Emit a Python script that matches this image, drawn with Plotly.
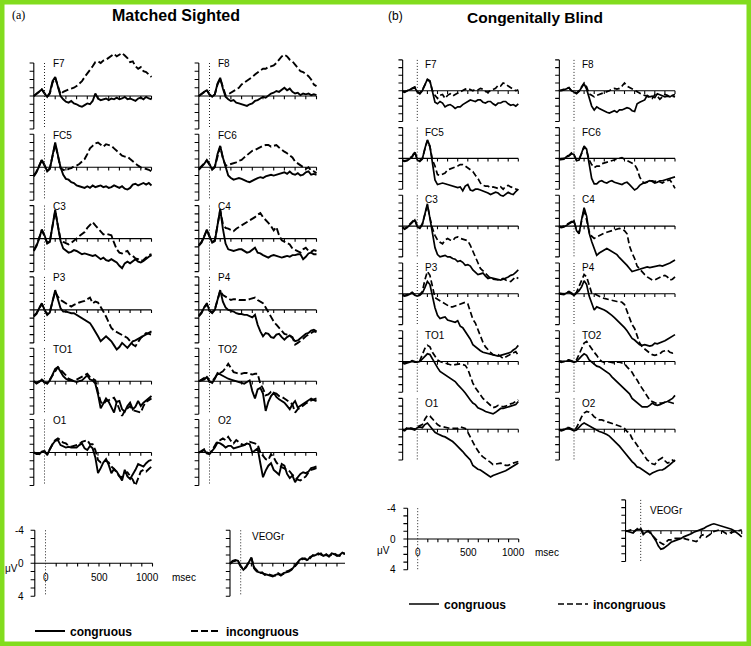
import plotly.graph_objects as go

W, H = 751, 646
FONT = "Liberation Sans, Arial, Helvetica, sans-serif"
SERIF = "Liberation Serif, Times New Roman, serif"
GREEN = "#82dc1e"

# ---------------- data (microvolts, negative plotted up) ----------------
T_A = list(range(-100, 1001, 25))
T_B = list(range(-150, 1001, 25))
Y_TICKS = [-4, -3, -2, -1, 0, 1, 2, 3, 4]
X_TICKS = [0, 100, 200, 300, 400, 500, 600, 700, 800, 900, 1000]
SCALE_Y_LABELS = [-4, 0, 4]
SCALE_X_LABELS = [0, 500, 1000]
LEFT_CHANNELS = ["F7", "FC5", "C3", "P3", "TO1", "O1"]
RIGHT_CHANNELS = ["F8", "FC6", "C4", "P4", "TO2", "O2"]

# ---- (a) Matched Sighted ----
A_F7_CON = [0.0,-0.3,-0.5,-0.8,-0.3, 0.1,-0.4,-1.8,-2.3,-1.0, 0.0,0.4,0.7,0.8,0.6, 0.9,1.0,1.2,1.3,1.1, 0.9,1.0,0.6,-0.3,0.3, 0.5,0.4,0.3,0.5,0.3, 0.4,0.2,0.4,0.3,0.1, 0.4,0.3,0.5,0.6,0.3, 0.2,0.4,0.1,0.3,0.4]
A_F7_INC = [0.0,-0.2,-0.5,-0.8,-0.3, 0.1,-0.3,-1.6,-2.2,-1.1, -0.2,-0.5,-0.7,-0.8,-0.9, -1.0,-1.2,-1.5,-1.8,-2.3, -2.7,-3.1,-3.6,-4.1,-4.2, -4.0,-4.3,-4.4,-4.6,-4.8, -5.1,-4.8,-5.0,-5.2,-4.9, -4.6,-4.1,-4.2,-3.6,-3.3, -3.5,-3.0,-2.9,-2.6,-2.3]
A_F8_CON = [0.0,-0.3,-0.5,-0.7,-0.2, 0.1,-0.2,-1.5,-2.2,-0.9, 0.1,0.4,0.6,0.5,0.8, 0.9,1.0,1.1,1.2,1.0, 0.9,0.6,0.5,0.3,0.1, 0.2,-0.1,-0.3,-0.4,-0.6, -0.5,-0.8,-1.0,-0.7,-0.9, -0.5,-0.3,-0.4,-0.1,-0.3, -0.2,-0.3,-0.1,-0.2,-0.1]
A_F8_INC = [0.0,-0.2,-0.5,-0.7,-0.2, 0.1,-0.2,-1.4,-2.1,-1.0, -0.1,-0.2,-0.4,-0.6,-0.8, -1.0,-1.4,-1.6,-1.8,-2.0, -2.3,-2.6,-2.9,-3.1,-3.3, -3.3,-3.5,-3.6,-3.7,-4.0, -4.4,-4.8,-5.0,-4.8,-4.4, -4.2,-3.8,-3.4,-3.0,-2.9, -2.7,-2.4,-2.0,-1.4,-1.2]
A_FC5_CON = [1.1,0.6,-0.1,-0.9,-0.3, 0.5,0.2,-1.5,-3.0,-1.5, 0.0,0.9,1.4,1.5,1.8, 1.9,2.2,2.3,2.4,2.5, 2.3,2.5,2.2,2.4,2.3, 2.2,2.4,2.3,2.5,2.4, 2.2,2.4,2.5,2.3,2.6, 2.7,2.5,2.1,2.0,2.2, 2.0,1.9,2.1,1.9,2.2]
A_FC5_INC = [1.0,0.5,-0.2,-0.9,-0.2, 0.4,0.1,-1.4,-2.8,-1.4, 0.1,0.3,0.4,0.2,0.1, -0.1,-0.2,-0.4,-0.7,-1.0, -1.6,-2.3,-2.6,-2.9,-3.0, -2.7,-2.5,-2.8,-2.7,-2.6, -2.3,-2.0,-1.6,-1.4,-1.3, -1.3,-1.0,-0.7,-0.4,-0.2, 0.0,0.1,0.2,0.3,0.5]
A_FC6_CON = [0.3,0.0,-0.4,-0.9,-0.4, 0.3,0.0,-1.6,-2.6,-1.2, 0.0,1.0,1.3,1.5,1.4, 1.3,1.4,1.6,1.7,1.8, 1.6,1.4,1.3,1.2,1.3, 1.1,1.0,0.9,1.0,0.9, 0.8,0.7,0.6,0.8,0.5, 0.8,0.9,0.7,1.0,0.9, 0.6,0.5,0.9,0.8,0.9]
A_FC6_INC = [0.2,-0.1,-0.4,-0.8,-0.3, 0.2,-0.1,-1.5,-2.5,-1.1, -0.2,-0.3,-0.4,-0.5,-0.6, -0.8,-0.9,-1.2,-1.5,-1.7, -2.0,-2.1,-2.3,-2.4,-2.6, -2.7,-2.7,-2.5,-2.6,-2.7, -2.4,-2.1,-1.9,-1.7,-1.5, -1.2,-0.7,-0.5,-0.3,0.0, 0.2,0.0,0.4,0.5,0.7]
A_C3_CON = [1.5,0.9,0.0,-1.1,-0.4, 0.6,0.4,-1.8,-3.5,-1.5, 0.3,1.2,1.5,1.7,1.6, 1.4,1.5,1.7,1.9,1.8, 1.9,2.0,2.1,2.0,2.3, 2.5,2.3,2.6,2.7,2.5, 2.7,2.9,3.3,3.6,3.0, 2.8,3.0,2.7,2.5,2.8, 2.9,2.7,2.4,2.2,2.0]
A_C3_INC = [1.4,0.8,-0.1,-1.0,-0.3, 0.5,0.3,-1.6,-3.3,-1.6, 0.1,0.4,0.6,0.7,0.5, 0.3,0.0,-0.3,-0.6,-0.8, -1.3,-1.7,-2.0,-1.6,-1.2, -0.8,-0.5,-0.6,-0.5,-0.4, 0.5,1.3,1.7,1.8,1.6, 1.5,2.0,2.1,2.4,2.5, 2.7,2.6,2.3,2.0,1.9]
A_C4_CON = [0.9,0.5,-0.2,-1.1,-0.3, 0.5,0.3,-1.9,-3.6,-1.2, 0.6,1.3,1.4,1.5,1.4, 1.3,1.3,1.5,1.7,1.6, 1.4,1.1,1.7,1.8,2.0, 2.2,2.3,2.1,2.0,2.1, 2.2,2.3,2.2,2.1,2.2, 2.0,2.0,1.9,1.9,2.5, 2.2,1.8,1.7,1.9,1.9]
A_C4_INC = [0.8,0.4,-0.3,-1.0,-0.2, 0.4,0.2,-1.7,-3.4,-1.8, -1.3,-1.2,-1.0,-0.9,-1.2, -1.4,-1.5,-1.7,-1.9,-2.1, -2.3,-2.6,-2.9,-3.1,-2.6, -2.3,-1.9,-1.5,-1.0,-1.4, -0.4,0.2,0.4,0.6,0.7, 1.2,1.4,1.5,1.7,1.3, 1.1,1.5,1.6,1.4,1.5]
A_P3_CON = [0.8,0.5,-0.2,-0.8,0.0, 0.6,0.3,-1.2,-2.4,-1.3, -0.2,0.2,0.2,0.3,0.4, 0.4,0.6,0.8,1.0,1.1, 1.3,1.6,2.1,2.6,3.2, 3.8,3.5,3.2,3.5,3.8, 4.3,4.8,4.5,4.0,4.3, 4.6,4.2,3.8,3.7,3.5, 3.3,3.2,2.9,2.7,2.6]
A_P3_INC = [0.7,0.4,-0.2,-0.7,0.0, 0.5,0.2,-1.1,-2.2,-1.6, -1.2,-1.0,-0.8,-0.6,-0.4, -0.6,-0.8,-0.9,-1.0,-1.1, -1.3,-1.5,-0.8,-1.0,-0.9, -0.4,0.2,0.8,1.5,2.2, 2.5,2.7,2.9,3.1,3.2, 3.4,3.8,4.2,4.4,3.9, 3.4,3.1,2.8,2.9,3.0]
A_P4_CON = [0.8,0.4,-0.3,-0.8,0.1, 0.4,0.0,-1.3,-2.4,-1.0, -0.3,0.0,0.1,0.2,0.4, 0.5,0.5,0.6,0.6,0.8, 0.9,0.6,1.8,2.6,3.2, 2.8,2.9,3.3,3.4,3.0, 2.9,3.3,3.6,3.3,3.1, 3.4,3.8,3.7,3.4,3.1, 2.9,2.8,2.5,2.4,2.6]
A_P4_INC = [0.7,0.3,-0.3,-0.7,0.1, 0.3,-0.1,-1.2,-2.3,-1.8, -1.6,-1.3,-1.2,-1.3,-1.3, -1.2,-1.2,-1.2,-1.2,-1.3, -1.4,-1.5,-1.2,-1.0,-0.8, -0.3,0.3,0.8,1.4,1.8, 2.2,2.6,2.9,3.0,3.1, 3.3,4.2,4.0,3.8,3.5, 3.2,3.0,2.8,2.6,2.7]
A_TO1_CON = [0.0,0.3,0.1,-0.2,0.1, 0.3,-0.1,-0.8,-1.5,-1.7, -1.1,-0.6,-0.3,-0.1,-0.1, 0.0,0.1,0.0,-0.1,-0.4, -0.7,-0.2,-0.1,0.3,1.6, 3.3,2.6,2.1,2.5,3.2, 3.8,2.5,2.4,3.4,3.7, 3.0,2.6,3.4,3.1,2.4, 3.0,2.6,2.3,2.1,1.8]
A_TO1_INC = [0.0,0.2,0.0,-0.2,0.2, 0.2,-0.2,-0.7,-1.3,-1.7, -1.4,-1.1,-0.7,-0.3,-0.1, 0.0,-0.2,-0.4,-0.5,-0.7, -0.9,-0.5,-0.3,-0.1,1.3, 2.5,2.8,2.4,2.3,2.1, 2.0,2.6,3.4,4.2,3.6, 3.3,3.0,3.5,3.6,3.7, 3.8,3.0,2.5,2.3,2.1]
A_TO2_CON = [0.0,-0.1,-0.2,-0.5,0.0, 0.2,-0.3,-1.0,-0.8,-0.6, -0.4,-0.3,-0.2,-0.1,0.0, 0.1,0.2,0.3,0.1,-0.1, 1.2,2.1,1.0,0.8,1.5, 3.6,2.5,1.8,1.4,1.9, 2.2,2.4,2.6,3.0,3.4, 2.8,2.4,3.2,3.0,2.7, 2.5,2.4,2.1,2.3,2.4]
A_TO2_INC = [0.0,-0.2,-0.3,-0.6,0.1, 0.0,-0.4,-0.9,-1.0,-1.2, -1.6,-2.1,-1.6,-1.1,-1.0, -0.9,-0.9,-1.0,-1.0,-0.9, -0.8,-0.9,-0.9,0.3,0.9, 1.7,1.6,1.3,1.4,1.5, 1.8,1.9,2.1,2.3,2.6, 2.8,3.8,3.4,3.2,2.9, 2.7,2.5,2.3,2.2,2.1]
A_O1_CON = [0.0,0.2,0.2,-0.1,-0.2, 0.3,-0.4,-1.0,-1.4,-1.5, -0.9,-0.7,-0.6,-0.7,-0.6, -0.6,-0.6,-0.9,-1.1,-0.5, -0.3,-0.8,-0.5,0.6,2.5, 1.9,1.2,0.8,1.5,2.5, 2.0,2.3,2.8,3.4,2.1, 2.9,3.2,2.7,2.1,1.4, 1.6,1.7,1.3,1.0,0.9]
A_O1_INC = [0.0,0.1,0.2,-0.1,-0.1, 0.2,-0.5,-1.0,-1.5,-1.7, -1.5,-1.2,-1.1,-0.8,-0.7, -0.8,-0.9,-1.0,-1.3,-1.4, -1.5,-1.0,-1.0,-0.3,0.9, 1.2,1.1,1.0,1.2,1.7, 2.0,2.5,2.9,3.0,2.5, 2.4,2.9,3.3,4.0,3.2, 2.3,2.1,2.3,2.0,1.7]
A_O2_CON = [0.0,-0.1,-0.3,0.1,0.2, -0.2,-0.6,-1.2,-1.1,-0.9, -0.6,-0.8,-0.8,-0.5,-0.6, -0.7,-0.8,-0.9,-1.1,-1.0, 0.0,-0.2,-0.5,1.3,3.0, 2.2,1.6,1.3,2.1,2.4, 2.7,1.4,1.6,2.6,3.1, 2.8,3.6,3.0,2.6,2.4, 2.5,2.3,1.9,1.8,1.7]
A_O2_INC = [0.0,-0.2,-0.4,0.0,0.1, -0.3,-0.8,-1.4,-1.5,-1.7, -1.5,-1.9,-1.4,-1.1,-1.5, -1.2,-1.0,-0.9,-1.1,-1.3, -1.2,-1.1,-1.0,0.0,0.4, 0.8,0.9,0.2,0.6,1.2, 1.6,1.8,1.9,2.1,2.3, 2.7,3.0,3.3,3.4,3.1, 2.9,2.4,2.1,2.0,1.9]
A_VEOG_CON = [0.0,-0.3,-0.4,-0.3,0.3, 0.8,0.5,-0.2,-0.7,0.6, 1.0,1.1,1.2,1.3,1.4, 1.5,1.6,1.4,1.3,1.5, 1.2,1.1,1.0,0.8,0.4, -0.1,-0.4,-0.6,-0.5,-0.4, -0.8,-0.9,-1.0,-1.2,-1.0, -0.9,-1.1,-0.8,-1.2,-1.1, -0.9,-1.0,-1.3,-1.1,-1.0]
A_VEOG_INC = [0.1,-0.2,-0.3,-0.2,0.4, 0.7,0.4,-0.1,-0.6,0.5, 0.9,1.2,1.1,1.4,1.3, 1.4,1.5,1.5,1.2,1.4, 1.3,1.0,0.9,0.7,0.5, 0.1,-0.3,-0.5,-0.6,-0.3, -0.7,-1.0,-0.9,-1.1,-1.2, -0.8,-1.0,-0.9,-1.1,-1.2, -1.0,-0.9,-1.2,-1.2,-1.1]

# ---- (b) Congenitally Blind ----
B_F7_CON = [0.1,0.2, 0.0,-0.1,-0.2,-0.4,0.2, 0.4,0.0,-0.8,-1.5,-1.3, 0.2,1.5,1.7,1.4,1.6, 2.1,1.9,1.8,2.0,2.3, 2.1,2.1,1.8,1.6,1.5, 1.2,1.3,1.4,1.2,1.2, 1.5,1.6,1.4,1.4,1.7, 1.9,1.6,1.6,1.4,1.4, 1.7,1.9,1.8,2.0,1.7]
B_F7_INC = [0.1,0.1, 0.0,-0.2,-0.3,-0.5,0.1, 0.3,-0.1,-0.7,-1.4,-1.2, 0.0,0.6,1.0,0.6,0.5, 1.0,0.6,0.4,0.7,0.5, 0.3,0.1,-0.1,-0.2,-0.3, -0.2,0.0,-0.2,-0.1,-0.3, -0.2,0.1,0.2,0.0,-0.1, -0.3,-0.7,-0.6,-1.0,-0.9, -0.6,-0.4,-0.1,0.0,-0.1]
B_F8_CON = [0.0,0.0, -0.1,-0.2,-0.4,0.0,0.2, 0.4,0.1,-0.4,-0.9,-0.2, 0.8,2.0,2.5,2.1,2.3, 2.5,2.6,2.8,2.9,2.7, 2.6,2.8,2.5,2.5,2.3, 2.2,2.3,2.6,2.7,1.7, 1.5,1.4,1.2,0.6,0.8, 0.7,0.9,0.4,0.5,0.6, 0.8,0.7,0.8,0.6,0.5]
B_F8_INC = [0.0,-0.1, -0.1,-0.3,-0.4,0.0,0.1, 0.3,0.0,-0.5,-1.0,-0.5, 0.4,0.6,0.8,0.6,0.5, 0.4,0.3,0.2,0.0,-0.2, -0.3,-0.2,-0.3,-0.6,-1.0, -0.6,-0.4,-0.2,-0.1,0.2, 0.3,0.5,0.6,0.7,0.9, 1.0,0.5,0.7,1.1,0.8, 0.5,0.6,0.8,0.7,0.8]
B_FC5_CON = [0.3,0.4, 0.3,0.1,-0.2,-0.8,0.2, 0.4,0.1,-1.3,-2.4,-1.6, 0.5,2.8,3.4,3.3,3.2, 3.3,3.4,3.5,3.6,3.7, 3.8,3.7,4.2,3.6,3.4, 4.1,4.2,4.0,4.0,4.1, 4.2,4.3,4.5,4.7,4.6, 4.4,4.5,4.8,4.9,4.6, 4.4,4.6,4.7,4.3,4.0]
B_FC5_INC = [0.2,0.3, 0.2,0.0,-0.3,-0.9,0.1, 0.3,0.0,-1.2,-2.3,-1.5, 0.2,1.0,2.1,2.2,2.1, 1.9,1.5,1.4,1.3,1.2, 1.0,0.8,0.8,1.0,1.2, 1.4,1.7,2.2,2.6,3.2, 3.5,3.6,3.6,3.8,3.7, 3.8,3.9,3.7,4.0,3.6, 3.5,3.7,3.8,3.9,4.1]
B_FC6_CON = [0.2,0.1, 0.1,-0.2,-0.3,-0.6,-0.5, 0.3,0.2,-0.7,-1.6,-1.2, 0.6,2.6,3.3,3.3,3.0, 2.9,3.1,3.2,3.0,2.9, 3.1,3.2,3.3,3.4,3.2, 3.1,3.4,3.8,4.1,3.9, 3.5,3.3,3.2,3.0,2.9, 3.0,3.2,3.1,2.9,2.9, 2.8,2.7,2.6,2.5,2.4]
B_FC6_INC = [0.1,0.0, 0.0,-0.3,-0.4,-0.7,-0.4, 0.2,0.1,-0.6,-1.5,-1.0, 0.2,0.8,1.2,1.0,1.0, 0.7,0.6,0.4,0.3,0.2, 0.1,0.1,0.0,-0.1,0.1, 0.3,0.4,0.6,0.8,1.4, 2.4,3.0,3.2,3.1,2.9, 2.9,3.0,2.9,3.1,3.2, 3.0,2.9,2.8,3.3,3.9]
B_C3_CON = [0.2,0.4, 0.2,-0.1,-0.4,-0.8,0.1, 0.3,-0.2,-1.6,-2.9,-1.0, 1.2,2.8,3.7,4.0,3.9, 3.8,4.0,4.0,4.2,4.3, 4.6,4.5,4.7,5.1,5.0, 5.2,5.7,6.0,6.3,6.2, 6.1,6.5,6.8,6.7,6.8, 6.9,7.0,7.0,6.9,6.8, 6.6,6.4,6.3,6.0,5.7]
B_C3_INC = [0.1,0.3, 0.1,-0.2,-0.5,-0.9,0.0, 0.2,-0.3,-1.5,-2.7,-1.1, 0.3,1.2,1.8,2.1,2.3, 1.8,1.6,1.8,1.9,1.5, 1.4,1.6,1.7,1.8,1.9, 2.5,3.3,4.1,4.8,5.5, 5.8,6.1,6.5,6.8,6.9, 7.0,7.0,6.9,6.8,7.0, 7.1,7.2,6.9,6.6,6.8]
B_C4_CON = [0.1,0.2, 0.1,-0.1,-0.2,-0.5,-0.7, 0.6,1.0,-0.8,-2.4,-1.3, 0.9,2.0,2.9,3.8,3.5, 3.3,3.1,2.9,3.1,3.3, 3.4,3.7,4.1,4.4,4.8, 5.1,5.5,5.9,5.8,5.7, 5.6,5.5,5.4,5.3,5.4, 5.3,5.3,5.2,5.1,5.2, 5.1,5.0,4.8,4.6,4.4]
B_C4_INC = [0.0,0.1, 0.0,-0.2,-0.3,-0.6,-0.6, 0.5,0.9,-0.7,-2.2,-0.8, 0.7,1.3,1.6,1.4,1.2, 1.0,0.9,0.8,0.7,0.6, 0.5,0.4,0.3,0.4,0.6, 1.0,2.6,3.5,4.2,5.2, 5.6,5.9,6.3,6.6,6.8, 7.0,7.0,6.8,6.6,6.5, 6.4,6.6,7.0,6.9,6.6]
B_P3_CON = [0.2,0.3, 0.2,0.0,-0.1,0.2,0.3, 0.2,-0.1,-0.8,-1.6,-1.2, 0.3,1.8,2.8,3.2,3.1, 3.0,3.4,3.5,3.6,3.7, 3.5,4.2,4.4,4.9,5.3, 5.9,6.6,6.9,7.2,7.4, 7.6,7.7,7.8,7.9,7.9, 8.0,8.1,8.0,7.9,7.9, 7.8,7.6,7.3,7.1,6.7]
B_P3_INC = [0.1,0.2, 0.1,-0.1,-0.2,0.1,0.2, 0.1,-0.3,-1.8,-2.9,-2.4, -1.0,0.5,0.7,0.9,1.0, 1.3,1.5,1.7,1.7,1.6, 1.5,1.3,1.2,1.1,1.3, 2.3,3.3,3.8,4.6,5.6, 6.3,6.9,7.3,7.6,7.9, 8.0,7.9,8.1,8.4,8.2, 8.0,7.9,7.6,7.5,8.0]
B_P4_CON = [0.0,0.1, 0.1,-0.1,-0.2,0.0,0.2, -0.1,-0.4,-0.9,-1.7,-1.2, 0.3,1.2,2.1,1.7,1.8, 1.9,2.1,2.3,2.5,2.8, 3.1,3.4,3.7,4.0,4.4, 4.8,5.4,5.8,6.0,6.3, 6.6,6.7,6.6,6.7,6.8, 6.7,6.4,6.5,6.4,6.3, 6.1,5.9,5.7,5.5,5.3]
B_P4_INC = [-0.1,0.0, 0.0,-0.2,-0.3,-0.1,0.1, -0.2,-0.9,-1.7,-2.5,-2.2, -1.2,-0.1,0.0,0.2,0.4, 0.5,0.6,0.7,0.8,0.9, 1.0,1.0,1.0,1.1,1.4, 2.2,3.1,4.0,4.5,5.5, 6.4,6.9,7.2,7.5,7.7, 7.9,8.0,7.9,7.8,7.5, 7.4,7.3,7.6,7.7,7.5]
B_TO1_CON = [0.2,0.3, 0.2,0.1,0.0,0.1,0.1, 0.0,-0.3,-0.6,-1.0,-0.9, -0.3,0.1,0.8,1.3,1.5, 1.8,2.0,2.2,2.4,2.6, 3.0,3.3,3.7,4.1,4.6, 5.0,5.4,5.6,6.0,6.1, 6.3,6.5,6.6,6.7,6.8, 6.6,6.4,6.1,6.1,6.0, 6.0,5.9,5.8,5.6,5.2]
B_TO1_INC = [0.1,0.2, 0.1,0.0,-0.1,0.0,0.1, -0.1,-0.8,-1.7,-2.1,-1.9, -1.2,-0.6,-0.2,0.0,0.1, 0.2,0.3,0.4,0.5,0.4, 0.3,0.3,0.4,0.5,1.0, 2.0,2.8,3.4,3.9,4.3, 4.8,5.1,5.4,5.8,6.0, 5.9,5.7,5.8,5.9,5.8, 5.6,5.5,5.4,5.2,5.0]
B_TO2_CON = [0.0,0.1, 0.0,-0.1,-0.1,0.0,0.1, 0.0,-0.4,-0.7,-1.0,-0.8, -0.2,0.1,0.3,0.6,0.7, 0.9,1.1,1.4,1.6,2.0, 2.3,2.6,2.9,3.3,3.6, 3.9,4.2,4.8,5.1,5.4, 5.7,5.9,5.9,5.9,5.7, 5.4,5.6,5.7,5.6,5.4, 5.3,5.2,5.0,4.8,4.4]
B_TO2_INC = [-0.1,0.0, 0.0,-0.2,-0.2,-0.1,0.0, -0.2,-0.9,-1.8,-2.4,-2.6, -2.1,-1.7,-1.2,-0.8,-0.3, 0.0,0.1,0.0,0.1,0.2, 0.2,0.1,0.1,0.2,0.3, 0.7,1.1,1.4,2.0,2.4, 3.0,3.5,4.1,4.6,5.0, 5.2,5.4,5.5,5.4,5.4, 5.3,5.2,5.3,5.4,5.5]
B_O1_CON = [0.1,0.2, -0.1,-0.1,0.0,0.1,-0.2, -0.3,-0.2,-0.6,-0.8,-0.4, 0.1,0.4,0.6,0.8,0.9, 1.0,1.2,1.3,1.6,1.9, 2.2,2.6,2.9,3.3,3.6, 4.0,4.7,5.0,5.2,5.3, 5.5,5.7,6.0,6.2,6.0, 5.9,5.8,5.7,5.6,5.4, 5.2,5.0,4.7,4.5,4.4]
B_O1_INC = [0.0,0.1, -0.2,-0.2,-0.1,0.0,-0.3, -0.4,-0.6,-1.3,-1.8,-1.7, -1.3,-0.9,-0.6,-0.4,-0.3, -0.2,-0.2,-0.1,-0.1,-0.1, -0.1,-0.3,-0.2,-0.1,0.4, 1.1,1.6,2.3,2.8,3.3, 3.6,3.8,4.0,4.3,4.6, 4.5,4.4,4.4,4.5,4.7, 4.7,4.5,4.4,4.3,4.2]
B_O2_CON = [0.1,0.2, 0.1,-0.1,-0.1,0.0,0.2, 0.1,-0.3,-0.6,-0.8,-0.6, -0.4,-0.2,-0.1,0.1,0.3, 0.4,0.5,0.7,0.9,1.2, 1.5,1.8,2.2,2.6,3.0, 3.4,3.9,4.2,4.5,4.9, 5.0,5.2,5.4,5.6,5.9, 5.7,5.5,5.4,5.3,5.3, 5.1,4.9,4.6,4.3,4.0]
B_O2_INC = [0.0,0.1, 0.0,-0.2,-0.2,-0.1,0.1, -0.2,-1.0,-1.6,-2.1,-2.3, -2.2,-2.0,-1.6,-1.4,-1.2, -1.2,-1.1,-1.0,-0.9,-0.8, -0.7,-0.6,-0.5,-0.3,-0.1, 0.3,0.5,1.2,1.6,2.1, 2.6,3.1,3.6,4.0,4.2, 4.5,4.6,4.1,3.9,3.7, 4.1,4.4,4.3,4.0,4.2]
B_VEOG_CON = [0.0,0.1, 0.1,0.3,-0.1,-0.2,-0.2, 0.5,0.2,0.1,0.3,0.8, 1.3,2.0,2.4,2.3,2.1, 1.8,1.5,1.4,1.3,1.2, 1.0,0.8,0.7,0.6,0.4, 0.2,0.1,-0.1,-0.2,-0.3, -0.5,-0.7,-0.8,-0.9,-0.8, -0.7,-0.6,-0.5,-0.5,-0.3, -0.2,0.0,0.2,0.5,0.8]
B_VEOG_INC = [0.1,0.0, -0.1,0.2,0.0,-0.4,-0.3, 0.3,0.1,0.0,0.4,0.8, 1.1,1.4,1.6,1.8,1.5, 1.2,1.2,1.0,1.0,1.0, 1.0,1.0,1.1,1.2,1.2, 1.3,1.4,1.2,0.6,0.5, 0.8,0.6,0.3,0.1,0.0, -0.1,0.0,0.2,0.4,0.3, 0.2,0.1,0.0,-0.1,-0.1]

DATA_A = {"F7": (A_F7_CON, A_F7_INC), "F8": (A_F8_CON, A_F8_INC),
          "FC5": (A_FC5_CON, A_FC5_INC), "FC6": (A_FC6_CON, A_FC6_INC),
          "C3": (A_C3_CON, A_C3_INC), "C4": (A_C4_CON, A_C4_INC),
          "P3": (A_P3_CON, A_P3_INC), "P4": (A_P4_CON, A_P4_INC),
          "TO1": (A_TO1_CON, A_TO1_INC), "TO2": (A_TO2_CON, A_TO2_INC),
          "O1": (A_O1_CON, A_O1_INC), "O2": (A_O2_CON, A_O2_INC),
          "VEOGr": (A_VEOG_CON, A_VEOG_INC)}
DATA_B = {"F7": (B_F7_CON, B_F7_INC), "F8": (B_F8_CON, B_F8_INC),
          "FC5": (B_FC5_CON, B_FC5_INC), "FC6": (B_FC6_CON, B_FC6_INC),
          "C3": (B_C3_CON, B_C3_INC), "C4": (B_C4_CON, B_C4_INC),
          "P3": (B_P3_CON, B_P3_INC), "P4": (B_P4_CON, B_P4_INC),
          "TO1": (B_TO1_CON, B_TO1_INC), "TO2": (B_TO2_CON, B_TO2_INC),
          "O1": (B_O1_CON, B_O1_INC), "O2": (B_O2_CON, B_O2_INC),
          "VEOGr": (B_VEOG_CON, B_VEOG_INC)}

for _name, (_T, _D) in {"A": (T_A, DATA_A), "B": (T_B, DATA_B)}.items():
    for _k, (_c, _i) in _D.items():
        if len(_c) != len(_T) or len(_i) != len(_T):
            raise ValueError(f"{_name} {_k}: {len(_c)} {len(_i)} vs {len(_T)}")

# ---------------- layout geometry (pixels) ----------------
PANEL_A = dict(T=T_A, data=DATA_A, sx=0.107, sy=8.25, cols=[44.5, 209.5],
               rows=[96.0, 167.3, 238.6, 309.9, 381.2, 452.5], t_ax=-100,
               t_lo=-160, v_up=-7, v_dn=7, lab=(60, -3.9),
               veog=dict(x0=240.7, y0=563.3, t_ax=-100, xmax=345, lab=(85, -3.3)),
               scale=dict(x0=45.5, y0=563.3, t_ax=-100, ylab_t=-185, mu=(-322, 0.6),
                          xlab_v=1.75, msec_t=1163),
               width=1.9, dash="7px,3px", legend="legend")
PANEL_B = dict(T=T_B, data=DATA_B, sx=0.101, sy=7.7, cols=[417.3, 574.0],
               rows=[90.7, 158.4, 226.1, 293.8, 361.5, 429.2], t_ax=-145,
               t_lo=-215, v_up=-6, v_dn=10, lab=(58, -3.4),
               veog=dict(x0=640.7, y0=530.7, t_ax=-150, xmax=W, lab=(72, -2.6)),
               scale=dict(x0=417.7, y0=539.0, t_ax=-100, ylab_t=-200, mu=(-340, 1.5),
                          xlab_v=1.75, msec_t=1140),
               width=1.7, dash="6px,3px", legend="legend2")

fig = go.Figure()
shapes = []
annotations = []
axis_n = [0]


def make_sub(x0, y0, sx, sy, t_lo, t_hi, v_up, v_dn, xmax=W):
    axis_n[0] += 1
    i = axis_n[0]
    sfx = "" if i == 1 else str(i)
    left = max(0.0, x0 + t_lo * sx)
    right = min(xmax, x0 + t_hi * sx)
    top = max(0.0, y0 + v_up * sy)
    bot = min(H, y0 + v_dn * sy)
    fig.update_layout(**{
        f"xaxis{sfx}": dict(domain=[left / W, right / W],
                            range=[(left - x0) / sx, (right - x0) / sx],
                            visible=False, fixedrange=True, anchor=f"y{sfx}"),
        f"yaxis{sfx}": dict(domain=[1 - bot / H, 1 - top / H],
                            range=[(bot - y0) / sy, (top - y0) / sy],
                            visible=False, fixedrange=True, anchor=f"x{sfx}"),
    })
    fig.add_trace(go.Scatter(x=[], y=[], xaxis=f"x{sfx}", yaxis=f"y{sfx}",
                             showlegend=False, hoverinfo="skip"))
    return f"x{sfx}", f"y{sfx}"


def draw_axes(xa, ya, t_ax, sx, sy):
    ytick = 4.2 / sx      # ~4 px in ms
    xtick = 3.2 / sy      # ~3 px in uV
    parts = [f"M{t_ax},{Y_TICKS[0]}L{t_ax},{Y_TICKS[-1]}"]
    for v in Y_TICKS:
        parts.append(f"M{t_ax - ytick},{v}L{t_ax},{v}")
    parts.append(f"M{t_ax - ytick},0L{X_TICKS[-1]},0")
    for t in X_TICKS[1:]:
        parts.append(f"M{t},0L{t},{xtick}")
    shapes.append(dict(type="path", path="".join(parts), xref=xa, yref=ya,
                       line=dict(color="black", width=1.1)))
    shapes.append(dict(type="line", x0=0, x1=0, y0=Y_TICKS[0], y1=Y_TICKS[-1],
                       xref=xa, yref=ya, line=dict(color="#222", width=1, dash="1px,2px")))


def add_pair(xa, ya, P, con, inc, first):
    fig.add_trace(go.Scatter(x=P["T"], y=con, xaxis=xa, yaxis=ya, mode="lines",
                             name="congruous", legend=P["legend"], showlegend=first,
                             line=dict(color="black", width=P["width"]), hoverinfo="skip"))
    fig.add_trace(go.Scatter(x=P["T"], y=inc, xaxis=xa, yaxis=ya, mode="lines",
                             name="incongruous", legend=P["legend"], showlegend=first,
                             line=dict(color="black", width=P["width"], dash=P["dash"]),
                             hoverinfo="skip"))


def label(xa, ya, text, t, v, size=10, **kw):
    d = dict(text=text, xref=xa, yref=ya, x=t, y=v, showarrow=False,
             xanchor="left", yanchor="middle", font=dict(family=FONT, size=size, color="black"))
    d.update(kw)
    annotations.append(d)


def draw_panel(P):
    first = True
    for col, chans in enumerate([LEFT_CHANNELS, RIGHT_CHANNELS]):
        for row, ch in enumerate(chans):
            xa, ya = make_sub(P["cols"][col], P["rows"][row], P["sx"], P["sy"],
                              P["t_lo"], 1030, P["v_up"], P["v_dn"])
            draw_axes(xa, ya, P["t_ax"], P["sx"], P["sy"])
            con, inc = P["data"][ch]
            add_pair(xa, ya, P, con, inc, first)
            first = False
            label(xa, ya, ch, P["lab"][0], P["lab"][1])
    V = P["veog"]
    xa, ya = make_sub(V["x0"], V["y0"], P["sx"], P["sy"], V["t_ax"] - 70, 1030,
                      P["v_up"], P["v_dn"], xmax=V["xmax"])
    draw_axes(xa, ya, V["t_ax"], P["sx"], P["sy"])
    con, inc = P["data"]["VEOGr"]
    add_pair(xa, ya, P, con, inc, False)
    label(xa, ya, "VEOGr", V["lab"][0], V["lab"][1])
    S = P["scale"]
    xa, ya = make_sub(S["x0"], S["y0"], P["sx"], P["sy"], -380, 1260,
                      P["v_up"], P["v_dn"])
    draw_axes(xa, ya, S["t_ax"], P["sx"], P["sy"])
    for v in SCALE_Y_LABELS:
        label(xa, ya, str(v), S["ylab_t"], v, xanchor="right")
    label(xa, ya, "μV", S["mu"][0], S["mu"][1], xanchor="center")
    for t in SCALE_X_LABELS:
        label(xa, ya, str(t), t, S["xlab_v"], xanchor="center",
              xshift=(-5 if t == SCALE_X_LABELS[-1] else 0))
    label(xa, ya, "msec", S["msec_t"], S["xlab_v"])


draw_panel(PANEL_A)
draw_panel(PANEL_B)

# titles
annotations += [
    dict(text="(a)", xref="paper", yref="paper", x=10 / W, y=1 - 15 / H, xanchor="left",
         yanchor="middle", showarrow=False, font=dict(family=SERIF, size=12, color="black")),
    dict(text="<b>Matched Sighted</b>", xref="paper", yref="paper", x=175.5 / W, y=1 - 15.5 / H,
         xanchor="center", yanchor="middle", showarrow=False,
         font=dict(family=FONT, size=16, color="black")),
    dict(text="(b)", xref="paper", yref="paper", x=386 / W, y=1 - 16 / H, xanchor="left",
         yanchor="middle", showarrow=False, font=dict(family=FONT, size=12, color="black")),
    dict(text="<b>Congenitally Blind</b>", xref="paper", yref="paper", x=535 / W, y=1 - 18 / H,
         xanchor="center", yanchor="middle", showarrow=False,
         font=dict(family=FONT, size=15.5, color="black")),
]

shapes.append(dict(type="rect", xref="paper", yref="paper", x0=0, x1=1, y0=0, y1=1,
                   line=dict(color=GREEN, width=9), layer="above"))

legend_common = dict(orientation="h", xanchor="left", yanchor="middle",
                     font=dict(family=FONT, size=12, color="black", weight="bold"),
                     entrywidthmode="pixels", bgcolor="rgba(0,0,0,0)", borderwidth=0,
                     itemwidth=30, traceorder="normal")

fig.update_layout(
    width=W, height=H, margin=dict(l=0, r=0, t=0, b=0, pad=0),
    paper_bgcolor="white", plot_bgcolor="rgba(0,0,0,0)",
    showlegend=True, hovermode=False,
    shapes=shapes, annotations=annotations,
    legend=dict(x=30 / W, y=1 - 631 / H, entrywidth=111, **legend_common),
    legend2=dict(x=404 / W, y=1 - 604 / H, entrywidth=104, **legend_common),
)

fig.write_html("out.html")
